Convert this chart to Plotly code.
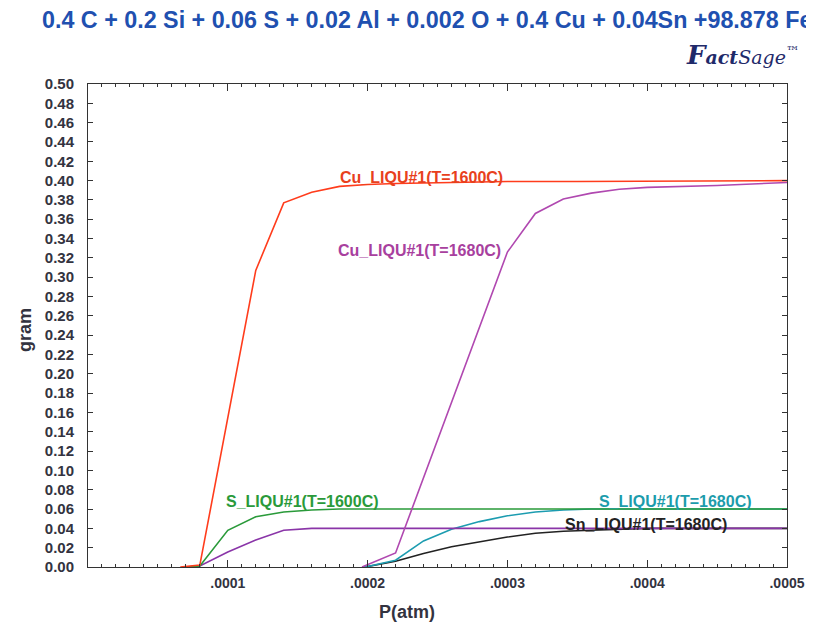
import plotly.graph_objects as go

# ---------------- data (P in atm, amount in gram) ----------------
P_CU_1600 = [0.66e-4, 0.8e-4, 1.2e-4, 1.4e-4, 1.6e-4, 1.8e-4, 2.0e-4, 2.2e-4, 2.6e-4, 3.0e-4, 3.5e-4, 4.0e-4, 4.5e-4, 5.0e-4]
G_CU_1600 = [0.0, 0.002, 0.307, 0.377, 0.388, 0.394, 0.396, 0.397, 0.398, 0.399, 0.399, 0.3995, 0.3998, 0.400]

P_CU_1680 = [1.96e-4, 2.2e-4, 3.0e-4, 3.2e-4, 3.4e-4, 3.6e-4, 3.8e-4, 4.0e-4, 4.5e-4, 5.0e-4]
G_CU_1680 = [0.0, 0.0145, 0.326, 0.366, 0.381, 0.387, 0.391, 0.393, 0.395, 0.398]

P_S_1600 = [0.70e-4, 0.8e-4, 1.0e-4, 1.2e-4, 1.4e-4, 1.6e-4, 1.8e-4, 2.0e-4, 5.0e-4]
G_S_1600 = [0.0, 0.001, 0.038, 0.052, 0.057, 0.059, 0.060, 0.060, 0.060]

P_SN_1600 = [0.70e-4, 0.8e-4, 1.0e-4, 1.2e-4, 1.4e-4, 1.6e-4, 5.0e-4]
G_SN_1600 = [0.0, 0.001, 0.0155, 0.028, 0.038, 0.040, 0.040]

P_S_1680 = [1.96e-4, 2.0e-4, 2.2e-4, 2.4e-4, 2.6e-4, 2.8e-4, 3.0e-4, 3.2e-4, 3.4e-4, 3.6e-4, 5.0e-4]
G_S_1680 = [0.0, 0.0005, 0.007, 0.027, 0.039, 0.047, 0.053, 0.057, 0.059, 0.060, 0.060]

P_SN_1680 = [1.96e-4, 2.0e-4, 2.2e-4, 2.4e-4, 2.6e-4, 2.8e-4, 3.0e-4, 3.2e-4, 3.4e-4, 3.6e-4, 3.8e-4, 4.0e-4, 5.0e-4]
G_SN_1680 = [0.0, 0.0005, 0.006, 0.014, 0.021, 0.026, 0.031, 0.035, 0.037, 0.038, 0.039, 0.040, 0.040]

X_TICKS = [1e-4, 2e-4, 3e-4, 4e-4, 5e-4]
X_TICK_TEXT = [".0001", ".0002", ".0003", ".0004", ".0005"]
Y_TICKS = [round(i * 0.02, 2) for i in range(26)]
Y_TICK_TEXT = [f"{v:.2f}" for v in Y_TICKS]

TITLE = "0.4 C + 0.2 Si + 0.06 S + 0.02 Al + 0.002 O + 0.4 Cu + 0.04Sn +98.878 Fe"
X_TITLE = "P(atm)"
Y_TITLE = "gram"

# label text, anchor P, anchor gram, colour
LABELS = [
    ("Cu_LIQU#1(T=1600C)", 2.386e-4, 0.4027, "#e8401c"),
    ("Cu_LIQU#1(T=1680C)", 2.368e-4, 0.328, "#a8409e"),
    ("S_LIQU#1(T=1600C)", 1.532e-4, 0.0673, "#2a9a3a"),
    ("S_LIQU#1(T=1680C)", 4.20e-4, 0.0673, "#1c9cac"),
    ("Sn_LIQU#1(T=1680C)", 3.993e-4, 0.0435, "#222222"),
]

FONT = "Liberation Sans, Arial, sans-serif"
AXC = "#333340"

fig = go.Figure()

series = [
    (P_SN_1680, G_SN_1680, "#222222"),
    (P_S_1680, G_S_1680, "#1c9cb0"),
    (P_SN_1600, G_SN_1600, "#8a35a8"),
    (P_S_1600, G_S_1600, "#2a9a3a"),
    (P_CU_1680, G_CU_1680, "#b048b0"),
    (P_CU_1600, G_CU_1600, "#ff3c1c"),
]
for xs, ys, c in series:
    fig.add_trace(go.Scatter(x=xs, y=ys, mode="lines",
                             line=dict(color=c, width=1.6), showlegend=False,
                             hoverinfo="skip"))

for text, x, y, c in LABELS:
    fig.add_annotation(x=x, y=y, xref="x", yref="y", text=f"<b>{text}</b>",
                       showarrow=False, font=dict(family=FONT, size=16, color=c))

fig.add_annotation(x=-0.0687, y=1.1325, xref="paper", yref="paper",
                   xanchor="left", yanchor="middle", text=f"<b>{TITLE}</b>",
                   showarrow=False, font=dict(family=FONT, size=23.3, color="#2050b0"))

fig.add_annotation(x=1.02, y=1.06, xref="paper", yref="paper",
                   xanchor="right", yanchor="middle",
                   text="<b><i><span style='font-size:26px'>F</span>act</i></b><i>Sage</i><sup>™</sup>",
                   showarrow=False, font=dict(family="DejaVu Serif, serif", size=19, color="#1f2a6a"))

fig.add_annotation(x=0.456, y=-0.093, xref="paper", yref="paper",
                   xanchor="center", yanchor="middle", text=f"<b>{X_TITLE}</b>",
                   showarrow=False, font=dict(family=FONT, size=18, color=AXC))

fig.add_annotation(x=-0.090, y=0.491, xref="paper", yref="paper", textangle=-90,
                   xanchor="center", yanchor="middle", text=f"<b>{Y_TITLE}</b>",
                   showarrow=False, font=dict(family=FONT, size=18, color=AXC))

# the page adds an 8px body margin, so the figure is 8px smaller and shifted
fig.update_layout(
    width=806, height=616,
    margin=dict(l=80, r=27, t=76, b=57),
    paper_bgcolor="white", plot_bgcolor="white",
    font=dict(family=FONT),
    xaxis=dict(
        range=[0, 5e-4], tickvals=X_TICKS, ticktext=[f"<b>{t}</b>" for t in X_TICK_TEXT],
        ticks="inside", ticklen=7, tickcolor="#333", tickwidth=1,
        minor=dict(ticks="inside", dtick=1e-5, ticklen=3, tickcolor="#333"),
        showline=True, linecolor="#333", linewidth=1, mirror="ticks",
        showgrid=False, zeroline=False, automargin=False, ticklabelstandoff=3,
        tickfont=dict(family=FONT, size=14, color=AXC),
    ),
    yaxis=dict(
        range=[0, 0.5], tickvals=Y_TICKS, ticktext=[f"<b>{t}</b>" for t in Y_TICK_TEXT],
        ticks="inside", ticklen=5, tickcolor="#333", tickwidth=1,
        showline=True, linecolor="#333", linewidth=1, mirror="ticks",
        showgrid=False, zeroline=False, automargin=False, ticklabelstandoff=10,
        tickfont=dict(family=FONT, size=15, color=AXC),
    ),
)

fig.write_html("out.html")
